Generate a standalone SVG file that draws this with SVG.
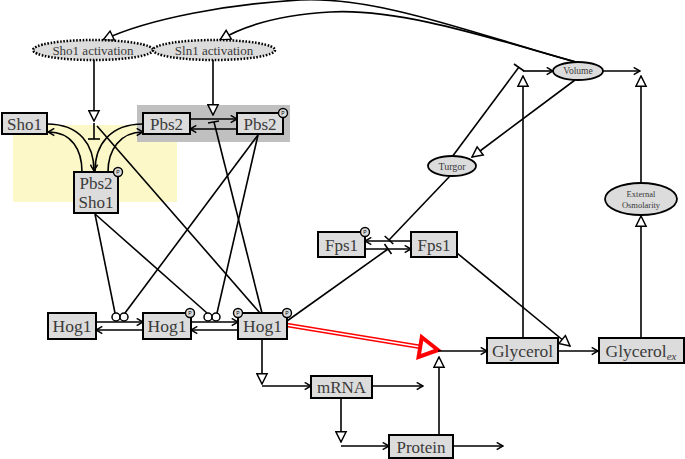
<svg xmlns="http://www.w3.org/2000/svg" width="685" height="459" viewBox="0 0 685 459">
<style>
.box{fill:#dcdcdc;stroke:#000;stroke-width:2}
.t{font-family:"Liberation Serif","DejaVu Serif",serif;fill:#3a3a3a;text-anchor:middle}
.ln{fill:none;stroke:#000;stroke-width:1.6}
.ell{fill:#dcdcdc;stroke:#000;stroke-width:1.8}
.dot{fill:#dcdcdc;stroke:#000;stroke-width:2.5;stroke-dasharray:1.6 1.6}
.pc{fill:#dcdcdc;stroke:#000;stroke-width:1.4}
.pt{font-family:"Liberation Sans",sans-serif;font-size:5px;fill:#000;text-anchor:middle}
.cc{fill:#fff;stroke:#000;stroke-width:1.5}
</style>
<defs>
<marker id="arr" viewBox="0 0 10 10" refX="9" refY="5" markerWidth="9" markerHeight="9" markerUnits="userSpaceOnUse" orient="auto">
<path d="M2,1 L9,5 L2,9" fill="none" stroke="#000" stroke-width="1.6"/>
</marker>
<marker id="tri" viewBox="0 0 14 14" refX="13" refY="7" markerWidth="13" markerHeight="13" markerUnits="userSpaceOnUse" orient="auto">
<polygon points="2,1.5 13,7 2,12.5" fill="#fff" stroke="#000" stroke-width="1.6"/>
</marker>
</defs>

<rect x="13" y="125" width="164" height="77" fill="#fdf8c8"/>
<rect x="137" y="105" width="153" height="37" fill="#c0c0c0"/>

<g id="connectors">
<path class="ln" d="M576,62 C480,36 380,-4 300,0 C230,4 150,18 103,40" marker-end="url(#tri)"/>
<path class="ln" d="M576,62 C490,38 400,8 330,12 C280,15 245,25 220,40" marker-end="url(#tri)"/>
<line class="ln" x1="94" y1="60" x2="94" y2="121" marker-end="url(#tri)"/>
<line class="ln" x1="94" y1="123" x2="94" y2="139"/>
<line class="ln" x1="88" y1="139" x2="100" y2="139"/>
<line class="ln" x1="213" y1="60" x2="213" y2="115" marker-end="url(#tri)"/>
<line class="ln" x1="262" y1="313" x2="214" y2="122"/>
<line class="ln" x1="208" y1="123" x2="219" y2="121"/>
<line class="ln" x1="260" y1="313" x2="97" y2="126"/>
<line class="ln" x1="190" y1="119" x2="237" y2="119" marker-end="url(#arr)"/>
<line class="ln" x1="237" y1="129" x2="190" y2="129" marker-end="url(#arr)"/>
<path class="ln" d="M47,124 C80,124 94,145 94,171" marker-end="url(#arr)"/>
<path class="ln" d="M82,172 C82,150 72,132 48,132" marker-end="url(#arr)"/>
<path class="ln" d="M143,124 C110,124 95,145 95,171"/>
<path class="ln" d="M108,172 C108,150 120,132 143,132" marker-end="url(#arr)"/>
<line class="ln" x1="95" y1="214" x2="115" y2="313"/>
<line class="ln" x1="95" y1="214" x2="207" y2="313"/>
<line class="ln" x1="258" y1="135" x2="125" y2="313"/>
<line class="ln" x1="258" y1="135" x2="217" y2="313"/>
<line class="ln" x1="96" y1="322" x2="143" y2="322" marker-end="url(#arr)"/>
<line class="ln" x1="143" y1="330" x2="96" y2="330" marker-end="url(#arr)"/>
<line class="ln" x1="191" y1="322" x2="238" y2="322" marker-end="url(#arr)"/>
<line class="ln" x1="238" y1="330" x2="191" y2="330" marker-end="url(#arr)"/>
<circle class="cc" cx="116" cy="317" r="4"/>
<circle class="cc" cx="124" cy="317" r="4"/>
<circle class="cc" cx="208" cy="317" r="4"/>
<circle class="cc" cx="216" cy="317" r="4"/>
<line class="ln" x1="287" y1="321" x2="388" y2="249"/>
<line class="ln" x1="384.5" y1="244" x2="391.5" y2="254"/>
<line class="ln" x1="411" y1="241" x2="365" y2="241" marker-end="url(#arr)"/>
<line class="ln" x1="365" y1="249" x2="411" y2="249" marker-end="url(#arr)"/>
<line class="ln" x1="450" y1="176" x2="389" y2="240"/>
<line class="ln" x1="384.7" y1="236" x2="393.3" y2="244"/>
<line class="ln" x1="452" y1="157" x2="519" y2="67"/>
<line class="ln" x1="514" y1="64" x2="524" y2="71"/>
<line class="ln" x1="523" y1="71" x2="553" y2="71" marker-end="url(#arr)"/>
<line class="ln" x1="523" y1="338" x2="523" y2="76" marker-end="url(#tri)"/>
<line class="ln" x1="603" y1="71" x2="640" y2="71" marker-end="url(#arr)"/>
<line class="ln" x1="641" y1="183" x2="641" y2="76" marker-end="url(#tri)"/>
<line class="ln" x1="575" y1="80" x2="472" y2="157" marker-end="url(#tri)"/>
<line class="ln" x1="641" y1="338" x2="641" y2="216" marker-end="url(#tri)"/>
<line class="ln" x1="457" y1="253" x2="570" y2="346" marker-end="url(#tri)"/>
<line class="ln" x1="558" y1="351" x2="598" y2="351" marker-end="url(#arr)"/>
<line x1="287" y1="325" x2="421" y2="347" stroke="#f00" stroke-width="4.5"/>
<line x1="287" y1="325" x2="421" y2="347" stroke="#fff" stroke-width="1.5"/>
<polygon points="421.8,337.2 438,350 418.6,357" fill="#fff" stroke="#f00" stroke-width="4" stroke-linejoin="miter"/>
<line class="ln" x1="438" y1="351" x2="487" y2="351" marker-end="url(#arr)"/>
<line class="ln" x1="439" y1="435" x2="439" y2="357" marker-end="url(#tri)"/>
<line class="ln" x1="262" y1="339" x2="262" y2="384" marker-end="url(#tri)"/>
<line class="ln" x1="262" y1="386" x2="311" y2="386" marker-end="url(#arr)"/>
<line class="ln" x1="372" y1="386" x2="423" y2="386" marker-end="url(#arr)"/>
<line class="ln" x1="341" y1="398" x2="341" y2="442" marker-end="url(#tri)"/>
<line class="ln" x1="341" y1="446" x2="389" y2="446" marker-end="url(#arr)"/>
<line class="ln" x1="453" y1="446" x2="503" y2="446" marker-end="url(#arr)"/>
</g>

<g id="sho1act"><ellipse class="dot" cx="93" cy="50" rx="60" ry="10"/><text class="t" x="93" y="54.5" font-size="13">Sho1 activation</text></g>
<g id="sln1act"><ellipse class="dot" cx="214" cy="50" rx="61" ry="10"/><text class="t" x="214" y="54.5" font-size="13">Sln1 activation</text></g>
<g id="volume"><ellipse class="ell" cx="578" cy="71" rx="25" ry="9"/><text class="t" x="578" y="74" font-size="9.5">Volume</text></g>
<g id="turgor"><ellipse class="ell" cx="452" cy="166" rx="24" ry="10"/><text class="t" x="452" y="169.5" font-size="10">Turgor</text></g>
<g id="extosm"><ellipse class="ell" cx="641" cy="199" rx="36" ry="16"/><text class="t" x="641" y="197" font-size="8.5">External</text><text class="t" x="641" y="208" font-size="8.5">Osmolarity</text></g>

<g id="sho1"><rect class="box" x="2" y="113" width="45" height="21"/><text class="t" x="24.5" y="129.5" font-size="17">Sho1</text></g>
<g id="pbs2"><rect class="box" x="143" y="113" width="47" height="21"/><text class="t" x="166.5" y="129.5" font-size="17">Pbs2</text></g>
<g id="pbs2p"><rect class="box" x="237" y="113" width="46" height="21"/><text class="t" x="260" y="129.5" font-size="17">Pbs2</text><circle class="pc" cx="283" cy="113" r="4.5"/><text class="pt" x="283" y="115">P</text></g>
<g id="pbs2sho1"><rect class="box" x="74" y="172" width="44" height="41"/><text class="t" x="96" y="189" font-size="17">Pbs2</text><text class="t" x="96" y="208" font-size="17">Sho1</text><circle class="pc" cx="118" cy="172" r="4.5"/><text class="pt" x="118" y="174">P</text></g>
<g id="hog1a"><rect class="box" x="48" y="313" width="48" height="26"/><text class="t" x="72" y="332" font-size="17.5">Hog1</text></g>
<g id="hog1b"><rect class="box" x="143" y="313" width="48" height="26"/><text class="t" x="167" y="332" font-size="17.5">Hog1</text><circle class="pc" cx="190" cy="313" r="4.5"/><text class="pt" x="190" y="315">P</text></g>
<g id="hog1c"><rect class="box" x="238" y="313" width="49" height="26"/><text class="t" x="262.5" y="332" font-size="17.5">Hog1</text><circle class="pc" cx="238" cy="313" r="4.5"/><text class="pt" x="238" y="315">P</text><circle class="pc" cx="287" cy="313" r="4.5"/><text class="pt" x="287" y="315">P</text></g>
<g id="fps1p"><rect class="box" x="318" y="232" width="47" height="25"/><text class="t" x="341.5" y="250.5" font-size="17">Fps1</text><circle class="pc" cx="365" cy="232" r="4.5"/><text class="pt" x="365" y="234">P</text></g>
<g id="fps1"><rect class="box" x="411" y="232" width="46" height="25"/><text class="t" x="434" y="250.5" font-size="17">Fps1</text></g>
<g id="glycerol"><rect class="box" x="487" y="338" width="71" height="25"/><text class="t" x="522.5" y="356.5" font-size="17.5">Glycerol</text></g>
<g id="glycerolex"><rect class="box" x="599" y="338" width="85" height="25"/><text class="t" x="641" y="356.5" font-size="17.5">Glycerol<tspan font-size="11" font-style="italic" dy="3">ex</tspan></text></g>
<g id="mrna"><rect class="box" x="311" y="376" width="61" height="22"/><text class="t" x="341.5" y="393" font-size="17">mRNA</text></g>
<g id="protein"><rect class="box" x="389" y="435" width="64" height="23"/><text class="t" x="421" y="452.5" font-size="17">Protein</text></g>
</svg>
